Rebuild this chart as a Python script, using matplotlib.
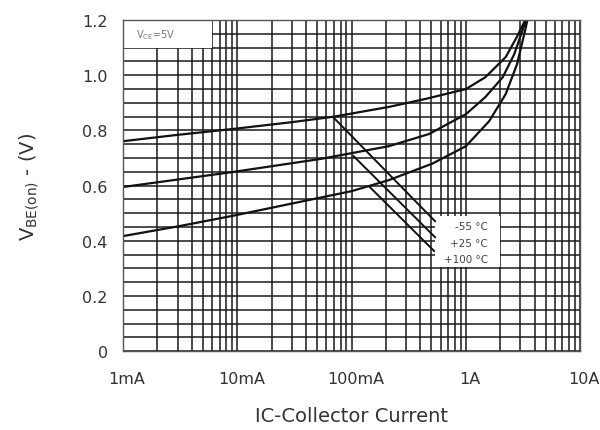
import numpy as np
import matplotlib
matplotlib.use("Agg")
import matplotlib.pyplot as plt
from matplotlib.ticker import LogLocator, MultipleLocator, FixedLocator, NullFormatter
from matplotlib.patches import Rectangle
import matplotlib.transforms as mtransforms

# Data (collector current in mA, VBE(on) in V)
i_m55 = [1, 3, 9, 30, 70, 210, 440, 1000, 1480, 2230, 2800, 3300]
v_m55 = [0.761, 0.784, 0.805, 0.83, 0.85, 0.885, 0.914, 0.95, 0.993, 1.066, 1.14, 1.2]

i_25 = [1, 3, 9, 54, 212, 475, 1000, 1480, 2100, 2650, 3200, 3400]
v_25 = [0.595, 0.622, 0.649, 0.697, 0.743, 0.787, 0.859, 0.921, 0.993, 1.077, 1.175, 1.2]

i_100 = [1, 3, 9, 30, 100, 212, 510, 1000, 1600, 2230, 2800, 3350, 3450]
v_100 = [0.417, 0.452, 0.49, 0.535, 0.58, 0.62, 0.68, 0.743, 0.834, 0.932, 1.04, 1.175, 1.2]

xtick_vals = [1, 10, 100, 1000, 10000]
xtick_labels = ["1mA", "10mA", "100mA", "1A", "10A"]
ytick_vals = [0, 0.2, 0.4, 0.6, 0.8, 1.0, 1.2]
ytick_labels = ["0", "0.2", "0.4", "0.6", "0.8", "1.0", "1.2"]

temp_labels = ["-55 °C", "+25 °C", "+100 °C"]
leader_start_i = [69, 104, 144]
leader_start_v = [0.848, 0.707, 0.595]
leader_end_i = [537, 537, 527]
leader_end_v = [0.471, 0.413, 0.363]
label_v = [0.453, 0.392, 0.334]

fig = plt.figure(figsize=(6.0, 4.31), dpi=100)
ax = fig.add_axes([0.205, 0.183, 0.762, 0.768])
ax.set_xscale("log")
ax.set_xlim(1, 10000)
ax.set_ylim(0, 1.2)

ax.xaxis.set_major_locator(FixedLocator(xtick_vals))
ax.xaxis.set_minor_locator(LogLocator(base=10, subs=np.arange(2, 10)))
ax.xaxis.set_minor_formatter(NullFormatter())
ax.set_xticks(xtick_vals)
ax.set_xticklabels(xtick_labels)
ax.set_yticks(ytick_vals)
ax.set_yticklabels(ytick_labels)
ax.yaxis.set_minor_locator(MultipleLocator(0.05))

ax.set_axisbelow(True)
ax.grid(which="both", color="#1a1a1a", linewidth=1.1)
ax.tick_params(which="both", length=0)
ax.tick_params(axis="x", pad=14, labelsize=11.5, labelcolor="#333333")
ax.tick_params(axis="y", pad=11, labelsize=11.5, labelcolor="#333333")
offset = mtransforms.ScaledTranslation(4 / 100, 0, fig.dpi_scale_trans)
for lab in ax.get_xticklabels():
    lab.set_transform(lab.get_transform() + offset)

for s in ax.spines.values():
    s.set_color("#555555")
    s.set_linewidth(1.0)

# white boxes
ax.add_patch(Rectangle((1, 1.1), 5, 0.1, facecolor="white", edgecolor="none", zorder=1))
ax.add_patch(Rectangle((535, 0.305), 2000 - 535, 0.184, facecolor="white", edgecolor="none", zorder=1))
ax.text(1.3, 1.15, "V$_{\\mathregular{CE}}$=5V", fontsize=7, color="#777777", va="center", ha="left", zorder=3)

for iv, vv in [(i_m55, v_m55), (i_25, v_25), (i_100, v_100)]:
    ax.plot(iv, vv, color="#111111", linewidth=1.6, zorder=2, clip_on=True,
            solid_joinstyle="round")

for k in range(3):
    ax.plot([leader_start_i[k], leader_end_i[k]], [leader_start_v[k], leader_end_v[k]],
            color="#111111", linewidth=1.4, zorder=2)
    ax.text(1550, label_v[k], temp_labels[k], fontsize=7.5, color="#444444",
            ha="right", va="center", zorder=3)

ax.set_xlabel("IC-Collector Current", fontsize=14, color="#333333", labelpad=15)
ax.set_ylabel("V$_{\\mathregular{BE(on)}}$ - (V)", fontsize=14, color="#333333", labelpad=30)

fig.savefig("out.png", dpi=100, facecolor="white")
